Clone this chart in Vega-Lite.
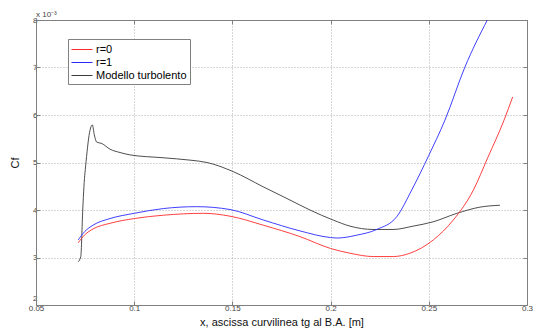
{
  "$schema": "https://vega.github.io/schema/vega-lite/v6.json",
  "width": 491,
  "height": 285,
  "autosize": "none",
  "padding": {"left": 36, "top": 20, "right": 6, "bottom": 29},
  "background": "white",
  "config": {
    "font": "Liberation Sans",
    "view": {"stroke": "#808080", "strokeWidth": 1},
    "axis": {"labelFont": "Liberation Sans", "titleFont": "Liberation Sans", "labelColor": "#444", "titleColor": "#111", "domainColor": "#808080", "tickColor": "#808080", "gridColor": "#999", "gridDash": [1, 2], "gridWidth": 0.8, "labelFontSize": 8, "tickSize": -4}
  },
  "title": {"text": "x 10⁻³", "anchor": "start", "frame": "group", "fontSize": 8, "fontWeight": "normal", "color": "#444", "dx": 0, "offset": -3, "font": "Liberation Sans"},
  "data": {"values": [
    {"s": "Modello turbolento", "x": 0.0715, "y": 2.91},
    {"s": "Modello turbolento", "x": 0.0728, "y": 3.02},
    {"s": "Modello turbolento", "x": 0.0738, "y": 4.0},
    {"s": "Modello turbolento", "x": 0.0744, "y": 4.49},
    {"s": "Modello turbolento", "x": 0.0755, "y": 5.02},
    {"s": "Modello turbolento", "x": 0.0775, "y": 5.68},
    {"s": "Modello turbolento", "x": 0.0787, "y": 5.79},
    {"s": "Modello turbolento", "x": 0.0797, "y": 5.58},
    {"s": "Modello turbolento", "x": 0.0809, "y": 5.43},
    {"s": "Modello turbolento", "x": 0.0835, "y": 5.40},
    {"s": "Modello turbolento", "x": 0.0877, "y": 5.28},
    {"s": "Modello turbolento", "x": 0.0928, "y": 5.21},
    {"s": "Modello turbolento", "x": 0.0979, "y": 5.16},
    {"s": "Modello turbolento", "x": 0.1147, "y": 5.10},
    {"s": "Modello turbolento", "x": 0.1284, "y": 5.05},
    {"s": "Modello turbolento", "x": 0.1371, "y": 5.00},
    {"s": "Modello turbolento", "x": 0.1503, "y": 4.81},
    {"s": "Modello turbolento", "x": 0.1656, "y": 4.49},
    {"s": "Modello turbolento", "x": 0.1793, "y": 4.21},
    {"s": "Modello turbolento", "x": 0.1895, "y": 4.0},
    {"s": "Modello turbolento", "x": 0.2012, "y": 3.79},
    {"s": "Modello turbolento", "x": 0.2099, "y": 3.66},
    {"s": "Modello turbolento", "x": 0.2216, "y": 3.59},
    {"s": "Modello turbolento", "x": 0.2318, "y": 3.59},
    {"s": "Modello turbolento", "x": 0.2420, "y": 3.66},
    {"s": "Modello turbolento", "x": 0.2521, "y": 3.75},
    {"s": "Modello turbolento", "x": 0.2643, "y": 3.93},
    {"s": "Modello turbolento", "x": 0.2760, "y": 4.06},
    {"s": "Modello turbolento", "x": 0.2862, "y": 4.10},
    {"s": "r=1", "x": 0.0715, "y": 3.37},
    {"s": "r=1", "x": 0.0749, "y": 3.55},
    {"s": "r=1", "x": 0.0790, "y": 3.68},
    {"s": "r=1", "x": 0.0877, "y": 3.82},
    {"s": "r=1", "x": 0.1000, "y": 3.93},
    {"s": "r=1", "x": 0.1148, "y": 4.03},
    {"s": "r=1", "x": 0.1318, "y": 4.07},
    {"s": "r=1", "x": 0.1488, "y": 4.01},
    {"s": "r=1", "x": 0.1657, "y": 3.79},
    {"s": "r=1", "x": 0.1844, "y": 3.56},
    {"s": "r=1", "x": 0.2000, "y": 3.42},
    {"s": "r=1", "x": 0.2034, "y": 3.41},
    {"s": "r=1", "x": 0.2133, "y": 3.47},
    {"s": "r=1", "x": 0.2235, "y": 3.59},
    {"s": "r=1", "x": 0.2337, "y": 3.86},
    {"s": "r=1", "x": 0.2413, "y": 4.42},
    {"s": "r=1", "x": 0.2500, "y": 5.15},
    {"s": "r=1", "x": 0.2582, "y": 5.89},
    {"s": "r=1", "x": 0.2684, "y": 7.01},
    {"s": "r=1", "x": 0.2798, "y": 8.0},
    {"s": "r=0", "x": 0.0715, "y": 3.31},
    {"s": "r=0", "x": 0.0749, "y": 3.48},
    {"s": "r=0", "x": 0.0790, "y": 3.60},
    {"s": "r=0", "x": 0.0877, "y": 3.72},
    {"s": "r=0", "x": 0.1000, "y": 3.82},
    {"s": "r=0", "x": 0.1148, "y": 3.89},
    {"s": "r=0", "x": 0.1352, "y": 3.93},
    {"s": "r=0", "x": 0.1488, "y": 3.87},
    {"s": "r=0", "x": 0.1657, "y": 3.68},
    {"s": "r=0", "x": 0.1844, "y": 3.44},
    {"s": "r=0", "x": 0.2000, "y": 3.19},
    {"s": "r=0", "x": 0.2099, "y": 3.09},
    {"s": "r=0", "x": 0.2217, "y": 3.02},
    {"s": "r=0", "x": 0.2319, "y": 3.02},
    {"s": "r=0", "x": 0.2404, "y": 3.09},
    {"s": "r=0", "x": 0.2523, "y": 3.37},
    {"s": "r=0", "x": 0.2625, "y": 3.79},
    {"s": "r=0", "x": 0.2727, "y": 4.42},
    {"s": "r=0", "x": 0.2800, "y": 5.10},
    {"s": "r=0", "x": 0.2883, "y": 5.89},
    {"s": "r=0", "x": 0.2927, "y": 6.38}
  ]},
  "layer": [
    {
      "mark": {"type": "line", "strokeWidth": 0.9, "clip": true, "interpolate": "monotone"},
      "encoding": {
        "x": {"field": "x", "type": "quantitative", "scale": {"domain": [0.05, 0.3], "nice": false, "zero": false},
              "axis": {"orient": "bottom", "values": [0.05, 0.1, 0.15, 0.2, 0.25, 0.3], "format": "~g", "title": "x, ascissa curvilinea tg al B.A. [m]", "titleFontSize": 11, "titleFontWeight": "normal", "titlePadding": 4, "labelPadding": 3, "grid": true, "labelFlush": false, "labelOverlap": false}},
        "y": {"field": "y", "type": "quantitative", "scale": {"domain": [2, 8], "nice": false, "zero": false},
              "axis": {"orient": "left", "values": [2, 3, 4, 5, 6, 7, 8], "title": "Cf", "titleFontSize": 11, "titleFontWeight": "normal", "titlePadding": 12, "labelPadding": 3, "grid": true, "labelFlush": false,
                       "labelBaseline": {"condition": {"test": "datum.value == 2", "value": "bottom"}, "value": "middle"},
                       "labelOffset": {"condition": {"test": "datum.value == 2", "value": -3}, "value": 0}}},
        "color": {"field": "s", "type": "nominal",
                  "scale": {"domain": ["r=0", "r=1", "Modello turbolento"], "range": ["#ff2a2a", "#2a2aff", "#3a3a3a"]},
                  "legend": {"title": null, "orient": "none", "legendX": 32, "legendY": 19, "symbolType": "M-1,0H2", "symbolSize": 196, "symbolStrokeWidth": 1, "labelFontSize": 11, "labelColor": "#000", "labelFont": "Liberation Sans", "strokeColor": "#808080", "fillColor": "white", "padding": 3, "rowPadding": 0, "labelOffset": 10}}
      }
    },
    {
      "mark": {"type": "line", "opacity": 0},
      "encoding": {
        "x": {"field": "x", "type": "quantitative", "axis": {"orient": "top", "labels": false, "title": null, "grid": false, "values": [0.05, 0.1, 0.15, 0.2, 0.25, 0.3]}},
        "y": {"field": "y", "type": "quantitative", "axis": {"orient": "right", "labels": false, "title": null, "grid": false, "values": [2, 3, 4, 5, 6, 7, 8]}},
        "detail": {"field": "s"}
      }
    }
  ]
}
